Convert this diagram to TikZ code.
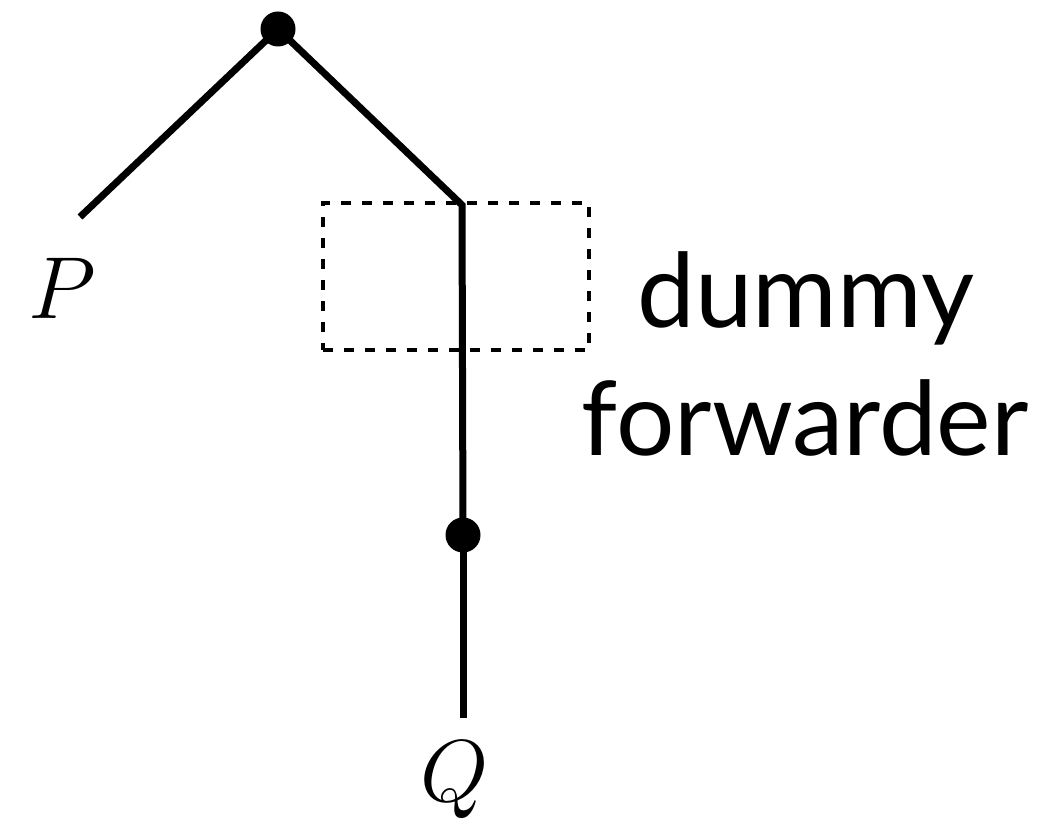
\documentclass[tikz,border=0pt]{standalone}
\usepackage{fontspec}
\newfontfamily\labelsans{Lato}
\newcommand{\bigmath}[1]{\scalebox{3.537}{\Huge$#1$}}
\begin{document}
\begin{tikzpicture}[x=1pt,y=-1pt]
\tikzset{
  dot/.style={circle,fill=black,inner sep=0pt,minimum size=35pt},
  edge/.style={line width=7pt,line join=miter},
  dummybox/.style={draw,line width=4pt,dash pattern=on 10pt off 11pt,inner sep=0pt,minimum width=266pt,minimum height=147pt},
  mathlbl/.style={anchor=base,inner sep=0pt},
  sanslbl/.style={anchor=base,inner sep=0pt,font=\labelsans\fontsize{103}{103}\selectfont}
}
\useasboundingbox (0,0) rectangle (1054,826);
\coordinate (t) at (278,29);
\coordinate (pend) at (80,217);
\coordinate (corner) at (462,205);
\coordinate (m) at (463,535);
\coordinate (qend) at (463,718);
\node[dummybox] (box) at (456,276.5) {};
\draw[edge] (t) -- (pend);
\draw[edge] (t) -- (corner) -- (m);
\draw[edge] (m) -- (qend);
\node[dot] (top) at (t) {};
\node[dot] (mid) at (m) {};
\node[mathlbl] (P) at (62,318) {\bigmath{P}};
\node[mathlbl] (Q) at (455,801) {\bigmath{Q}};
\node[sanslbl] (dummy) at (806,327) {dummy};
\node[sanslbl] (fwd) at (805,455) {forwarder};
\end{tikzpicture}
\end{document}
